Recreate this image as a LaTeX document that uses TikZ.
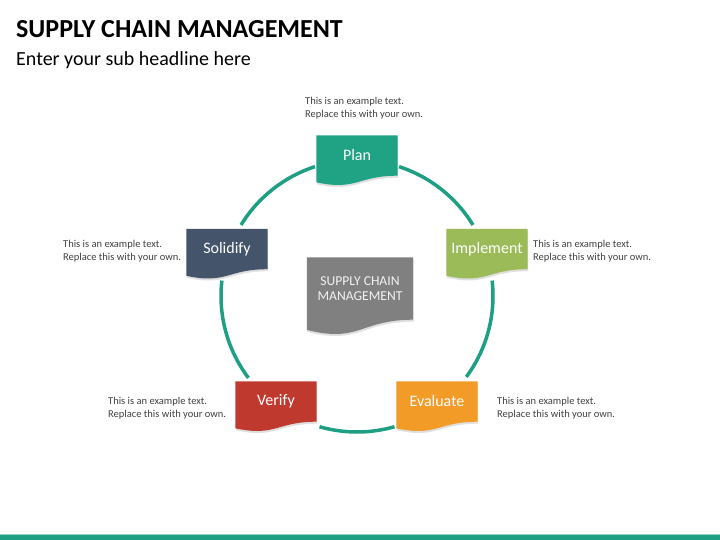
\documentclass[tikz,border=0pt]{standalone}
\usepackage{fontspec}
\setmainfont{Carlito}
\usetikzlibrary{backgrounds,shadows}
\definecolor{ringc}{HTML}{1E9F83}
\definecolor{planc}{HTML}{1FA384}
\definecolor{implc}{HTML}{9BBB59}
\definecolor{evalc}{HTML}{F29B26}
\definecolor{verifc}{HTML}{C0392F}
\definecolor{solidc}{HTML}{44546A}
\definecolor{scmc}{HTML}{808080}
\definecolor{notec}{HTML}{404040}
\definecolor{barc}{HTML}{8FD0C0}

\begin{document}
\begin{tikzpicture}[x=1pt,y=-1pt,
    stage/.style={minimum width=81pt,minimum height=40pt,inner sep=0pt,text=white,font=\fontsize{16}{18}\selectfont},
    note/.style={anchor=west,align=left,inner sep=0pt,text=notec,font=\fontsize{10.5}{13}\selectfont},
    ring/.style={draw=ringc,line width=3.5pt}]
  \useasboundingbox (0,0) rectangle (720,540);
  \node[anchor=base west,inner sep=0pt,font=\fontsize{26}{30}\bfseries\selectfont](title) at (16,37.8){SUPPLY CHAIN MANAGEMENT};
  \node[anchor=base west,inner sep=0pt,font=\fontsize{20}{24}\selectfont](sub) at (16,65.5){Enter your sub headline here};
  \coordinate(o) at (357,296);
  \node[stage](plan) at (357,155.5){Plan};
  \node[stage](impl) at (487,249){Implement};
  \node[stage](eval) at (437,401.5){Evaluate};
  \node[stage](verif) at (276,401.5){Verify};
  \node[stage](solid) at (227,249){Solidify};
  \node[stage,minimum width=106pt,minimum height=62pt,align=center,text=white!95!black,
    font=\fontsize{13.6}{14.5}\selectfont](scm) at (360,288.5){SUPPLY CHAIN\\MANAGEMENT};
  \node[note](nplan) at (305,108.5){This is an example text.\\Replace this with your own.};
  \node[note](nsolid) at (63,251.5){This is an example text.\\Replace this with your own.};
  \node[note](nimpl) at (533,251.5){This is an example text.\\Replace this with your own.};
  \node[note](nverif) at (108,408){This is an example text.\\Replace this with your own.};
  \node[note](neval) at (497,408){This is an example text.\\Replace this with your own.};
  \begin{scope}[on background layer]
    \foreach \a/\b in {72/31.5,6.5/-36.5,-74/-106,-143/-186.5,148.5/108}
      \draw[ring] ([shift={(\a:136pt)}]o) arc[start angle=\a,end angle=\b,radius=136pt];
    \foreach \n/\c/\t/\d in {plan/planc/6.6/15.3,impl/implc/6.6/15.3,eval/evalc/6.6/15.3,
        verif/verifc/6.6/15.3,solid/solidc/6.6/15.3,scm/scmc/10.2/23.5}
      \fill[\c,drop shadow={opacity=0.25,shadow xshift=0.5pt,shadow yshift=-2pt}]
        (\n.north west) -- (\n.north east) -- (\n.south east)
        .. controls (\n.south) and ([yshift=-\d pt]\n.south) .. ([yshift=-\t pt]\n.south west) -- cycle;
  \end{scope}
  \fill[barc] (0,533.7) rectangle (720,534.7);
  \fill[ringc] (0,534.7) rectangle (720,540);
\end{tikzpicture}
\end{document}
